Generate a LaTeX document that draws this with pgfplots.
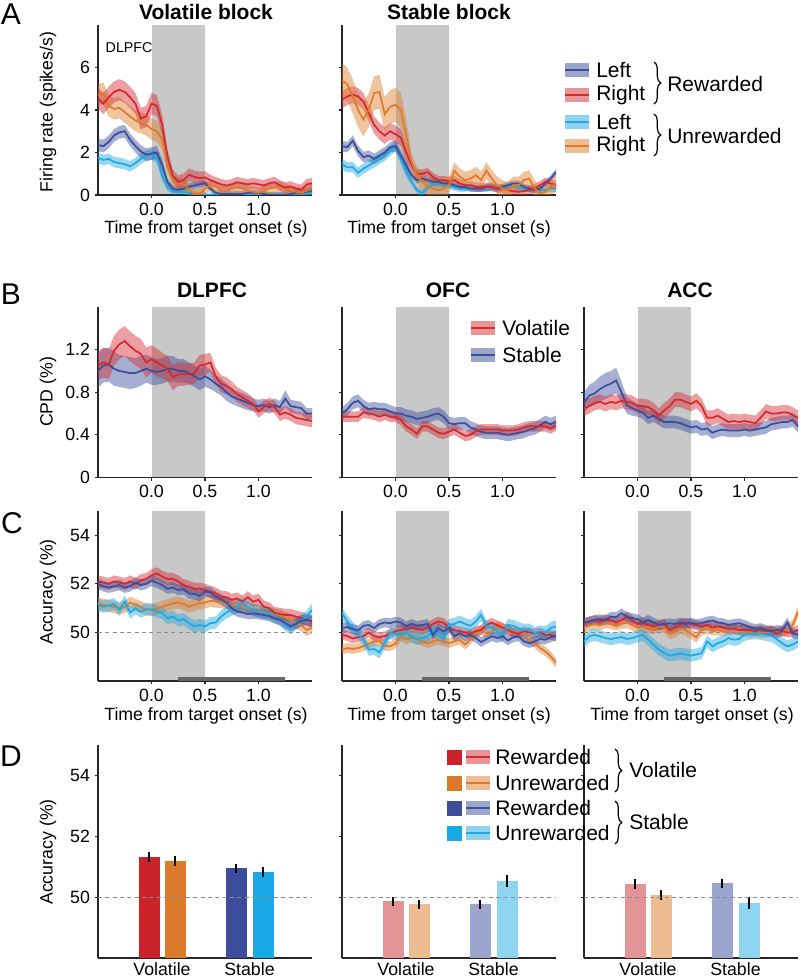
\documentclass[border=0pt]{standalone}
\usepackage{fontspec}
\setmainfont{Liberation Sans}
\usepackage{pgfplots}
\pgfplotsset{compat=1.18}
\usepackage{pgfplotstable}
\usepgfplotslibrary{fillbetween}
\usetikzlibrary{decorations.pathreplacing}

\definecolor{cR}{HTML}{D32A30}
\definecolor{cO}{HTML}{DE7B2B}
\definecolor{cB}{HTML}{3A4E9C}
\definecolor{cC}{HTML}{1FA8E1}
\definecolor{dR}{HTML}{CC2229}
\definecolor{dO}{HTML}{DC7A2B}
\definecolor{dB}{HTML}{3B4D9B}
\definecolor{dC}{HTML}{19A8E5}
\definecolor{lR}{HTML}{E39496}
\definecolor{lO}{HTML}{EDBB8F}
\definecolor{lB}{HTML}{9CA5CE}
\definecolor{lC}{HTML}{8DD4F1}
\definecolor{shadecol}{HTML}{C8C8C8}

\newcommand{\fTick}{\fontsize{13.3}{15}\selectfont}
\newcommand{\fTitle}{\fontsize{15.75}{18}\selectfont\bfseries}
\newcommand{\fLeg}{\fontsize{15.75}{18}\selectfont}
\newcommand{\fLet}{\fontsize{22.5}{26}\selectfont}
\newcommand{\fSm}{\fontsize{10.7}{12}\selectfont}

% ---------- Panel A tables ----------
\pgfplotstableread{
t r re o oe b be c ce
-0.50 4.55 0.5 4.70 0.5 2.35 0.3 1.75 0.25
-0.45 4.30 0.5 4.80 0.5 2.30 0.3 1.65 0.25
-0.40 4.60 0.5 4.20 0.5 2.50 0.3 1.70 0.25
-0.35 4.85 0.5 4.05 0.5 2.80 0.3 1.55 0.25
-0.30 4.95 0.5 4.10 0.5 2.95 0.3 1.50 0.25
-0.25 4.85 0.5 3.90 0.5 3.00 0.3 1.45 0.25
-0.20 4.60 0.5 3.70 0.5 2.60 0.3 1.35 0.25
-0.15 4.30 0.5 3.50 0.5 2.30 0.3 1.50 0.25
-0.10 3.60 0.5 3.40 0.5 2.05 0.3 1.70 0.25
-0.05 3.70 0.5 3.30 0.5 1.90 0.3 1.85 0.25
0.00 4.30 0.5 3.10 0.5 1.95 0.3 1.90 0.25
0.05 4.20 0.5 3.00 0.5 2.00 0.3 1.75 0.25
0.10 3.30 0.5 2.60 0.5 1.40 0.3 0.90 0.25
0.15 1.80 0.3 1.30 0.25 0.60 0.15 0.35 0.15
0.20 0.90 0.3 0.70 0.25 0.30 0.15 0.15 0.12
0.25 0.62 0.3 0.55 0.25 0.25 0.15 0.15 0.12
0.30 0.70 0.3 0.50 0.25 0.30 0.15 0.15 0.12
0.35 0.95 0.3 0.25 0.25 0.40 0.15 0.10 0.12
0.40 0.85 0.3 0.05 0.25 0.45 0.15 0.05 0.12
0.45 0.80 0.3 0.05 0.25 0.50 0.15 0.00 0.12
0.50 0.82 0.3 0.30 0.25 0.55 0.15 0.00 0.12
0.55 0.70 0.25 0.45 0.25 0.30 0.15 0.00 0.12
0.60 0.60 0.25 0.40 0.25 0.10 0.15 0.00 0.12
0.65 0.50 0.25 0.20 0.25 0.05 0.15 0.00 0.12
0.70 0.45 0.25 0.15 0.25 0.05 0.15 0.00 0.12
0.75 0.50 0.25 0.30 0.25 0.05 0.15 0.00 0.12
0.80 0.60 0.25 0.35 0.25 0.05 0.15 0.00 0.12
0.85 0.55 0.25 0.30 0.25 0.05 0.15 0.00 0.12
0.90 0.50 0.25 0.20 0.25 0.10 0.15 0.00 0.12
0.95 0.55 0.25 0.15 0.25 0.10 0.15 0.00 0.12
1.00 0.50 0.25 0.10 0.25 0.10 0.15 0.00 0.12
1.05 0.45 0.25 0.20 0.25 0.05 0.15 0.00 0.12
1.10 0.55 0.25 0.30 0.25 0.00 0.15 0.00 0.12
1.15 0.60 0.25 0.35 0.25 0.00 0.15 0.00 0.12
1.20 0.45 0.25 0.40 0.25 0.00 0.15 0.00 0.12
1.25 0.35 0.25 0.30 0.25 0.00 0.15 0.00 0.12
1.30 0.40 0.25 0.20 0.25 0.05 0.15 0.00 0.12
1.35 0.30 0.25 0.15 0.25 0.10 0.15 0.00 0.12
1.40 0.25 0.25 0.10 0.25 0.10 0.15 0.00 0.12
1.45 0.50 0.25 0.20 0.25 0.15 0.15 0.05 0.12
1.50 0.55 0.25 0.30 0.25 0.20 0.15 0.10 0.12
}\tAa

\pgfplotstableread{
t r re o oe b be c ce
-0.50 4.48 0.4 5.40 0.8 2.30 0.25 1.44 0.25
-0.45 4.64 0.4 5.20 0.8 2.25 0.25 1.31 0.25
-0.40 4.72 0.4 4.65 0.8 2.55 0.25 1.31 0.25
-0.35 4.64 0.4 4.00 0.8 2.08 0.25 1.05 0.25
-0.30 4.40 0.4 3.55 0.8 1.78 0.25 1.24 0.25
-0.25 3.86 0.4 4.00 0.8 1.85 0.25 1.39 0.25
-0.20 3.30 0.4 4.80 0.8 1.70 0.25 1.55 0.25
-0.15 3.00 0.4 4.85 0.8 1.85 0.25 1.70 0.25
-0.10 2.80 0.4 3.80 0.8 2.00 0.25 1.85 0.25
-0.05 3.00 0.4 4.15 0.8 2.25 0.25 2.08 0.25
0.00 2.86 0.4 4.25 0.8 2.30 0.25 2.30 0.25
0.05 2.70 0.4 4.00 0.8 1.85 0.25 1.70 0.25
0.10 2.00 0.4 2.80 0.8 1.40 0.25 1.08 0.25
0.15 1.40 0.2 1.55 0.4 0.93 0.15 0.62 0.15
0.20 1.00 0.2 0.93 0.4 0.70 0.15 0.23 0.15
0.25 1.00 0.2 0.62 0.4 0.77 0.15 0.08 0.15
0.30 1.08 0.2 0.40 0.4 0.70 0.15 0.35 0.15
0.35 0.85 0.2 0.30 0.4 0.62 0.15 0.50 0.15
0.40 0.70 0.2 0.23 0.4 0.62 0.15 0.50 0.15
0.45 0.70 0.2 0.30 0.4 0.54 0.15 0.50 0.15
0.50 0.65 0.2 0.46 0.4 0.54 0.15 0.45 0.15
0.55 0.70 0.2 1.15 0.4 0.46 0.15 0.35 0.15
0.60 0.54 0.2 0.85 0.4 0.38 0.15 0.30 0.15
0.65 0.46 0.2 0.70 0.4 0.38 0.15 0.30 0.15
0.70 0.46 0.2 0.77 0.4 0.30 0.15 0.35 0.15
0.75 0.38 0.2 0.93 0.4 0.30 0.15 0.30 0.15
0.80 0.38 0.2 0.70 0.4 0.30 0.15 0.30 0.15
0.85 0.38 0.2 1.15 0.4 0.38 0.15 0.30 0.15
0.90 0.38 0.2 0.77 0.4 0.38 0.15 0.35 0.15
0.95 0.30 0.2 0.46 0.4 0.30 0.15 0.30 0.15
1.00 0.30 0.2 0.30 0.4 0.38 0.15 0.35 0.15
1.05 0.23 0.2 0.23 0.4 0.46 0.15 0.40 0.15
1.10 0.18 0.2 0.46 0.4 0.54 0.15 0.45 0.15
1.15 0.15 0.2 0.46 0.4 0.54 0.15 0.35 0.15
1.20 0.18 0.2 0.70 0.4 0.38 0.15 0.30 0.15
1.25 0.23 0.2 0.77 0.4 0.30 0.15 0.30 0.15
1.30 0.30 0.2 0.30 0.4 0.23 0.15 0.25 0.15
1.35 0.46 0.2 0.08 0.4 0.30 0.15 0.20 0.15
1.40 0.62 0.2 0.15 0.4 0.54 0.15 0.25 0.15
1.45 0.54 0.2 0.38 0.4 0.77 0.15 0.30 0.15
1.50 0.46 0.2 0.54 0.4 1.08 0.15 0.30 0.15
}\tAb

% ---------- Panel B tables ----------
\pgfplotstableread{
t v ve s se
-0.50 1.05 0.14 1.00 0.16
-0.45 1.08 0.14 1.05 0.16
-0.40 1.06 0.14 1.06 0.16
-0.35 1.19 0.14 1.02 0.16
-0.30 1.25 0.14 1.00 0.15
-0.25 1.28 0.14 0.99 0.15
-0.20 1.23 0.14 0.98 0.15
-0.15 1.19 0.14 0.98 0.14
-0.10 1.16 0.14 1.00 0.14
-0.05 1.08 0.14 1.02 0.13
0.00 1.11 0.13 1.00 0.13
0.05 1.08 0.13 0.99 0.12
0.10 1.05 0.12 1.00 0.12
0.15 1.02 0.12 1.02 0.12
0.20 0.94 0.12 1.02 0.12
0.25 0.97 0.11 1.00 0.11
0.30 0.97 0.11 1.00 0.11
0.35 0.97 0.10 0.98 0.10
0.40 0.98 0.10 0.95 0.10
0.45 1.05 0.10 0.92 0.10
0.50 1.06 0.10 0.95 0.10
0.55 1.08 0.09 0.92 0.09
0.60 0.95 0.08 0.88 0.08
0.65 0.88 0.08 0.85 0.08
0.70 0.86 0.08 0.80 0.08
0.75 0.83 0.07 0.76 0.07
0.80 0.78 0.07 0.74 0.07
0.85 0.75 0.07 0.72 0.07
0.90 0.72 0.07 0.70 0.07
0.95 0.69 0.06 0.68 0.06
1.00 0.62 0.06 0.67 0.06
1.05 0.66 0.06 0.68 0.06
1.10 0.69 0.06 0.66 0.06
1.15 0.66 0.06 0.68 0.06
1.20 0.59 0.06 0.66 0.06
1.25 0.61 0.06 0.74 0.08
1.30 0.59 0.06 0.67 0.06
1.35 0.56 0.06 0.66 0.06
1.40 0.55 0.06 0.65 0.06
1.45 0.54 0.06 0.60 0.05
1.50 0.53 0.06 0.60 0.05
}\tBa

\pgfplotstableread{
t v s
-0.50 0.57 0.60
-0.45 0.57 0.64
-0.40 0.57 0.70
-0.35 0.57 0.72
-0.30 0.61 0.67
-0.25 0.60 0.64
-0.20 0.59 0.65
-0.15 0.57 0.64
-0.10 0.59 0.64
-0.05 0.57 0.62
0.00 0.57 0.60
0.05 0.54 0.60
0.10 0.48 0.58
0.15 0.45 0.57
0.20 0.41 0.55
0.25 0.48 0.56
0.30 0.48 0.57
0.35 0.45 0.59
0.40 0.42 0.60
0.45 0.41 0.57
0.50 0.43 0.51
0.55 0.45 0.50
0.60 0.42 0.51
0.65 0.39 0.51
0.70 0.40 0.47
0.75 0.43 0.45
0.80 0.45 0.43
0.85 0.45 0.42
0.90 0.45 0.42
0.95 0.45 0.42
1.00 0.44 0.41
1.05 0.44 0.40
1.10 0.44 0.41
1.15 0.45 0.42
1.20 0.47 0.43
1.25 0.48 0.45
1.30 0.48 0.46
1.35 0.48 0.49
1.40 0.48 0.52
1.45 0.46 0.50
1.50 0.49 0.52
}\tBb

\pgfplotstableread{
t v s se
-0.50 0.65 0.70 0.10
-0.45 0.67 0.77 0.10
-0.40 0.70 0.79 0.11
-0.35 0.71 0.83 0.12
-0.30 0.69 0.86 0.12
-0.25 0.71 0.88 0.12
-0.20 0.70 0.91 0.12
-0.15 0.72 0.80 0.10
-0.10 0.71 0.68 0.08
-0.05 0.70 0.65 0.07
0.00 0.67 0.63 0.06
0.05 0.67 0.61 0.06
0.10 0.66 0.56 0.06
0.15 0.63 0.58 0.06
0.20 0.58 0.55 0.06
0.25 0.63 0.52 0.06
0.30 0.67 0.52 0.06
0.35 0.73 0.52 0.06
0.40 0.73 0.51 0.06
0.45 0.71 0.49 0.06
0.50 0.69 0.47 0.06
0.55 0.72 0.48 0.06
0.60 0.67 0.45 0.06
0.65 0.56 0.46 0.06
0.70 0.56 0.42 0.06
0.75 0.58 0.44 0.06
0.80 0.55 0.45 0.06
0.85 0.52 0.44 0.06
0.90 0.53 0.44 0.06
0.95 0.52 0.44 0.06
1.00 0.53 0.45 0.06
1.05 0.52 0.44 0.06
1.10 0.51 0.45 0.06
1.15 0.56 0.46 0.06
1.20 0.62 0.47 0.06
1.25 0.60 0.50 0.06
1.30 0.60 0.51 0.06
1.35 0.61 0.52 0.06
1.40 0.61 0.52 0.06
1.45 0.59 0.54 0.06
1.50 0.56 0.48 0.06
}\tBc

% ---------- Panel C tables ----------
\pgfplotstableread{
t r o b c
-0.50 52.09 51.20 52.00 51.13
-0.45 52.05 51.13 51.90 51.06
-0.40 52.00 51.10 51.85 51.10
-0.35 52.10 51.04 51.90 51.17
-0.30 52.05 51.00 51.95 50.93
-0.25 52.00 51.04 51.85 51.27
-0.20 52.10 51.23 51.90 50.82
-0.15 52.00 51.13 52.05 51.00
-0.10 52.15 51.04 51.95 50.86
-0.05 52.20 50.95 52.00 50.95
0.00 52.35 50.93 52.13 50.95
0.05 52.43 50.98 52.05 50.86
0.10 52.30 51.06 51.95 50.80
0.15 52.20 51.13 51.80 50.59
0.20 52.20 51.20 51.85 50.65
0.25 52.10 51.23 51.75 50.49
0.30 51.95 51.17 51.78 50.55
0.35 51.88 51.06 51.60 50.38
0.40 51.80 51.13 51.58 50.25
0.45 51.80 51.20 51.50 50.31
0.50 51.75 51.23 51.68 50.25
0.55 51.68 51.30 51.65 50.38
0.60 51.60 51.27 51.47 50.41
0.65 51.47 51.25 51.36 50.65
0.70 51.45 51.20 51.23 50.82
0.75 51.34 51.15 51.00 50.93
0.80 51.40 51.10 50.86 51.06
0.85 51.27 51.05 50.82 51.20
0.90 51.45 51.00 50.76 51.06
0.95 51.27 50.95 50.78 50.93
1.00 51.34 50.90 50.76 50.86
1.05 51.06 50.85 50.72 50.80
1.10 51.00 50.80 50.68 50.78
1.15 50.80 50.75 50.59 50.65
1.20 50.76 50.70 50.52 50.52
1.25 50.72 50.60 50.38 50.31
1.30 50.72 50.50 50.25 50.18
1.35 50.65 50.40 50.35 50.38
1.40 50.60 50.30 50.49 50.49
1.45 50.52 50.10 50.52 50.65
1.50 50.45 50.20 50.45 50.93
}\tCa

\pgfplotstableread{
t r o b c
-0.50 49.90 49.29 50.18 50.79
-0.45 49.85 49.36 50.22 50.45
-0.40 49.75 49.32 50.14 50.18
-0.35 49.80 49.36 50.08 49.97
-0.30 49.85 49.43 50.27 49.70
-0.25 50.00 49.54 50.31 49.29
-0.20 49.85 49.63 50.18 49.32
-0.15 49.80 49.63 50.35 49.18
-0.10 49.85 49.45 50.41 49.56
-0.05 49.95 49.43 50.38 49.97
0.00 50.05 49.54 50.45 49.95
0.05 50.10 49.84 50.41 49.90
0.10 50.15 49.70 50.25 49.97
0.15 50.20 49.80 50.35 49.84
0.20 50.15 49.73 50.27 49.73
0.25 50.10 49.63 50.31 49.77
0.30 50.20 49.56 50.35 49.84
0.35 50.35 49.63 49.90 50.10
0.40 50.45 49.70 50.18 49.90
0.45 50.40 49.63 50.04 49.73
0.50 50.20 49.56 50.18 50.31
0.55 50.10 49.63 49.84 50.35
0.60 50.05 49.70 49.97 50.45
0.65 50.00 49.50 49.84 50.35
0.70 49.95 49.70 49.90 50.27
0.75 50.05 49.97 49.77 50.45
0.80 50.10 50.10 49.60 50.72
0.85 50.30 49.97 49.73 50.25
0.90 50.40 50.04 49.84 50.18
0.95 50.30 50.25 49.77 50.04
1.00 50.20 50.18 49.84 49.84
1.05 50.10 50.10 49.67 50.31
1.10 50.00 49.97 49.80 50.27
1.15 49.95 50.00 49.84 50.18
1.20 50.05 49.90 49.63 50.10
1.25 50.00 49.70 49.56 50.12
1.30 49.95 49.56 49.63 49.97
1.35 50.00 49.36 49.73 50.04
1.40 49.90 49.22 49.70 50.00
1.45 49.90 49.02 49.80 50.18
1.50 49.85 48.75 49.86 50.25
}\tCb

\pgfplotstableread{
t r o b c
-0.50 50.40 50.20 50.38 49.63
-0.45 50.45 50.30 50.45 49.84
-0.40 50.50 50.35 50.52 49.90
-0.35 50.45 50.30 50.55 49.84
-0.30 50.55 50.40 50.49 49.77
-0.25 50.50 50.35 50.65 49.73
-0.20 50.40 50.30 50.63 49.77
-0.15 50.50 50.35 50.79 49.81
-0.10 50.65 50.40 50.65 49.73
-0.05 50.50 50.30 50.59 49.77
0.00 50.35 50.20 50.55 49.84
0.05 50.40 50.25 50.41 49.90
0.10 50.30 50.20 50.52 49.70
0.15 50.25 50.15 50.41 49.50
0.20 50.30 50.25 50.31 49.29
0.25 50.35 50.20 50.35 49.15
0.30 50.10 49.95 50.38 49.05
0.35 50.20 50.00 50.35 49.09
0.40 50.35 50.15 50.41 49.13
0.45 50.40 50.10 50.35 49.09
0.50 50.35 49.95 50.41 49.05
0.55 50.30 49.80 50.35 49.09
0.60 50.25 50.10 50.38 49.15
0.65 50.30 50.15 50.45 49.63
0.70 50.20 50.10 50.49 49.43
0.75 50.25 50.10 50.41 49.56
0.80 50.20 50.05 50.38 49.63
0.85 50.15 50.10 50.31 49.77
0.90 50.15 50.15 50.35 49.70
0.95 50.10 50.10 50.38 49.73
1.00 50.10 50.05 50.31 49.90
1.05 50.10 50.00 50.22 49.95
1.10 50.05 50.05 50.14 49.97
1.15 50.10 50.00 50.18 49.95
1.20 50.05 50.00 50.10 49.90
1.25 50.10 50.05 50.04 49.86
1.30 49.95 50.00 50.10 49.73
1.35 50.05 50.05 50.08 49.56
1.40 50.00 50.10 50.41 49.43
1.45 50.00 50.30 49.97 49.50
1.50 50.10 50.85 49.90 49.63
}\tCc

\newcommand{\tser}[4]{%
  \addplot[name path=U#2, draw=none] table[x=t, y expr={\thisrow{#2}+#3}] {#1};
  \addplot[name path=L#2, draw=none] table[x=t, y expr={\thisrow{#2}-#3}] {#1};
  \addplot[fill=#4, fill opacity=0.45, draw=none] fill between[of=U#2 and L#2];
  \addplot[#4, line width=1.3pt] table[x=t, y=#2] {#1};
}
\newcommand{\grayband}[2]{%
  \addplot[on layer=axis background, fill=shadecol, draw=none] coordinates {(0,#1) (0.5,#1) (0.5,#2) (0,#2)} -- cycle;
}

\pgfplotsset{
  /pgf/number format/assume math mode=true,
  myax/.style={
    scale only axis, width=160.5pt, anchor=south west,
    axis x line=bottom, axis y line=left,
    axis line style={-, line width=1pt, black!85},
    tick style={line width=0.8pt, black!85},
    tick align=outside, major tick length=2.5pt,
    tick label style={font=\fTick},
    set layers, clip=true,
  },
  timeax/.style={myax, xmin=-0.5, xmax=1.5, xtick={0,0.5,1},
    xticklabel style={/pgf/number format/fixed, /pgf/number format/fixed zerofill, /pgf/number format/precision=1}},
  barax/.style={myax, xmin=0, xmax=214, ymin=48, ymax=55, ytick={50,52,54},
    xtick={64,151.5}, xticklabels={Volatile,Stable}, xtick style={draw=none},
    xticklabel style={inner sep=1pt}, height=159.75pt},
}

\newcommand{\dbar}[4]{% x, y, err, colour
  \addplot[ybar, bar width=21, bar shift=0pt, fill=#4, draw=none,
    error bars/.cd, y dir=both, y explicit, error mark=none,
    error bar style={line width=1.1pt, black}] coordinates {(#1,#2) +- (0,#3)};
}

\begin{document}
\begin{tikzpicture}

% ===== Panel A =====
\begin{axis}[timeax, at={(98*0.75pt,-195*0.75pt)}, height=127.5pt, ymin=0, ymax=8, ytick={0,2,4,6}]
\grayband{0}{8}
\tser{\tAa}{c}{\thisrow{ce}}{cC}
\tser{\tAa}{b}{\thisrow{be}}{cB}
\tser{\tAa}{o}{\thisrow{oe}}{cO}
\tser{\tAa}{r}{\thisrow{re}}{cR}
\end{axis}
\begin{axis}[timeax, at={(342*0.75pt,-195*0.75pt)}, height=127.5pt, ymin=0, ymax=8, ytick={0,2,4,6}, yticklabels={}]
\grayband{0}{8}
\tser{\tAb}{c}{\thisrow{ce}}{cC}
\tser{\tAb}{b}{\thisrow{be}}{cB}
\tser{\tAb}{r}{\thisrow{re}}{cR}
\tser{\tAb}{o}{\thisrow{oe}}{cO}
\end{axis}

% ===== Panel B =====
\begin{axis}[timeax, at={(98*0.75pt,-477.5*0.75pt)}, height=127.9pt, ymin=0, ymax=1.6, ytick={0,0.4,0.8,1.2}]
\grayband{0}{1.6}
\tser{\tBa}{s}{\thisrow{se}}{cB}
\tser{\tBa}{v}{\thisrow{ve}}{cR}
\end{axis}
\begin{axis}[timeax, at={(342*0.75pt,-477.5*0.75pt)}, height=127.9pt, ymin=0, ymax=1.6, ytick={0,0.4,0.8,1.2}, yticklabels={}]
\grayband{0}{1.6}
\tser{\tBb}{s}{0.06}{cB}
\tser{\tBb}{v}{0.05}{cR}
\end{axis}
\begin{axis}[timeax, at={(584*0.75pt,-477.5*0.75pt)}, height=127.9pt, ymin=0, ymax=1.6, ytick={0,0.4,0.8,1.2}, yticklabels={}]
\grayband{0}{1.6}
\tser{\tBc}{s}{\thisrow{se}}{cB}
\tser{\tBc}{v}{0.07}{cR}
\end{axis}

% ===== Panel C =====
\begin{axis}[timeax, at={(98*0.75pt,-681*0.75pt)}, height=127.5pt, ymin=48, ymax=55, ytick={50,52,54}]
\grayband{48}{55}
\addplot[dash pattern=on 3pt off 2.5pt, black!45, line width=0.8pt] coordinates {(-0.5,50) (1.5,50)};
\tser{\tCa}{o}{0.25}{cO}
\tser{\tCa}{r}{0.25}{cR}
\tser{\tCa}{c}{0.25}{cC}
\tser{\tCa}{b}{0.22}{cB}
\addplot[line width=3pt, black!60] coordinates {(0.25,48.08) (1.25,48.08)};
\end{axis}
\begin{axis}[timeax, at={(342*0.75pt,-681*0.75pt)}, height=127.5pt, ymin=48, ymax=55, ytick={50,52,54}, yticklabels={}]
\grayband{48}{55}
\addplot[dash pattern=on 3pt off 2.5pt, black!45, line width=0.8pt] coordinates {(-0.5,50) (1.5,50)};
\tser{\tCb}{o}{0.2}{cO}
\tser{\tCb}{r}{0.2}{cR}
\tser{\tCb}{c}{0.25}{cC}
\tser{\tCb}{b}{0.2}{cB}
\addplot[line width=3pt, black!60] coordinates {(0.25,48.08) (1.25,48.08)};
\end{axis}
\begin{axis}[timeax, at={(584*0.75pt,-681*0.75pt)}, height=127.5pt, ymin=48, ymax=55, ytick={50,52,54}, yticklabels={}]
\grayband{48}{55}
\addplot[dash pattern=on 3pt off 2.5pt, black!45, line width=0.8pt] coordinates {(-0.5,50) (1.5,50)};
\tser{\tCc}{o}{0.22}{cO}
\tser{\tCc}{r}{0.2}{cR}
\tser{\tCc}{c}{0.25}{cC}
\tser{\tCc}{b}{0.2}{cB}
\addplot[line width=3pt, black!60] coordinates {(0.25,48.08) (1.25,48.08)};
\end{axis}

% ===== Panel D =====
\begin{axis}[barax, at={(98*0.75pt,-958*0.75pt)}]
\dbar{51}{51.33}{0.17}{dR}
\dbar{77}{51.18}{0.17}{dO}
\dbar{138}{50.95}{0.15}{dB}
\dbar{165}{50.83}{0.16}{dC}
\addplot[dash pattern=on 3pt off 2.5pt, black!45, line width=0.8pt] coordinates {(0,50) (214,50)};
\end{axis}
\begin{axis}[barax, at={(342*0.75pt,-958*0.75pt)}, yticklabels={}]
\dbar{51}{49.87}{0.15}{lR}
\dbar{77}{49.77}{0.15}{lO}
\dbar{138}{49.77}{0.15}{lB}
\dbar{165}{50.52}{0.20}{lC}
\addplot[dash pattern=on 3pt off 2.5pt, black!45, line width=0.8pt] coordinates {(0,50) (214,50)};
\end{axis}
\begin{axis}[barax, at={(584*0.75pt,-958*0.75pt)}, yticklabels={}]
\dbar{51}{50.43}{0.16}{lR}
\dbar{77}{50.07}{0.15}{lO}
\dbar{138}{50.46}{0.15}{lB}
\dbar{165}{49.80}{0.19}{lC}
\addplot[dash pattern=on 3pt off 2.5pt, black!45, line width=0.8pt] coordinates {(0,50) (214,50)};
\end{axis}

% ===== Text, labels, legends =====
\begin{scope}[x=0.75pt, y=-0.75pt]
\node[font=\fLet] at (11,14) {A};
\node[font=\fLet] at (11,294) {B};
\node[font=\fLet] at (12,523) {C};
\node[font=\fLet] at (11,756) {D};

\node[font=\fTitle] at (206,12) {Volatile block};
\node[font=\fTitle] at (449,12) {Stable block};
\node[font=\fTitle] at (212,290) {DLPFC};
\node[font=\fTitle] at (448,290) {OFC};
\node[font=\fTitle] at (690,290) {ACC};

\node[font=\fSm, anchor=west] at (101,48) {DLPFC};

\node[font=\fTick, rotate=90] at (48,112) {Firing rate (spikes/s)};
\node[font=\fTick, rotate=90] at (48,392) {CPD (\%)};
\node[font=\fTick, rotate=90] at (48,592) {Accuracy (\%)};
\node[font=\fTick, rotate=90] at (48,852) {Accuracy (\%)};

\node[font=\fTick] at (206,229) {Time from target onset (s)};
\node[font=\fTick] at (449,229) {Time from target onset (s)};
\node[font=\fTick] at (206,716) {Time from target onset (s)};
\node[font=\fTick] at (449,716) {Time from target onset (s)};
\node[font=\fTick] at (692,716) {Time from target onset (s)};

% legend A
\foreach \yy/\cc/\lab in {70/cB/Left, 95/cR/Right, 122/cC/Left, 146/cO/Right}{
  \fill[\cc, fill opacity=0.5] (565,\yy-7) rectangle (589,\yy+7);
  \draw[\cc, line width=2pt] (565,\yy) -- (589,\yy);
  \node[font=\fLeg, anchor=west, inner sep=0pt] at (596,\yy) {\lab};
}
\draw[decorate, decoration={brace, amplitude=5pt}, line width=0.9pt] (654,62) -- (654,104);
\node[font=\fLeg, anchor=west, inner sep=0pt] at (667,84) {Rewarded};
\draw[decorate, decoration={brace, amplitude=5pt}, line width=0.9pt] (654,114) -- (654,156);
\node[font=\fLeg, anchor=west, inner sep=0pt] at (667,136) {Unrewarded};

% legend B
\foreach \yy/\cc/\lab in {328/cR/Volatile, 355/cB/Stable}{
  \fill[\cc, fill opacity=0.5] (471,\yy-7) rectangle (495,\yy+7);
  \draw[\cc, line width=2pt] (471,\yy) -- (495,\yy);
  \node[font=\fLeg, anchor=west, inner sep=0pt] at (502,\yy) {\lab};
}

% legend D
\foreach \yy/\dd/\cc/\lab in {757/dR/cR/Rewarded, 783/dO/cO/Unrewarded, 808/dB/cB/Rewarded, 833/dC/cC/Unrewarded}{
  \fill[\dd] (447,\yy-7.5) rectangle (462,\yy+7.5);
  \fill[\cc, fill opacity=0.5] (466,\yy-7) rectangle (490,\yy+7);
  \draw[\cc, line width=2pt] (466,\yy) -- (490,\yy);
  \node[font=\fLeg, anchor=west, inner sep=0pt] at (495,\yy) {\lab};
}
\draw[decorate, decoration={brace, amplitude=5pt}, line width=0.9pt] (615,749) -- (615,792);
\node[font=\fLeg, anchor=west, inner sep=0pt] at (629,770) {Volatile};
\draw[decorate, decoration={brace, amplitude=5pt}, line width=0.9pt] (615,801) -- (615,844);
\node[font=\fLeg, anchor=west, inner sep=0pt] at (629,822) {Stable};
\end{scope}
\pgfresetboundingbox
\path (0,0) rectangle (600pt,-735pt);
\end{tikzpicture}
\end{document}
